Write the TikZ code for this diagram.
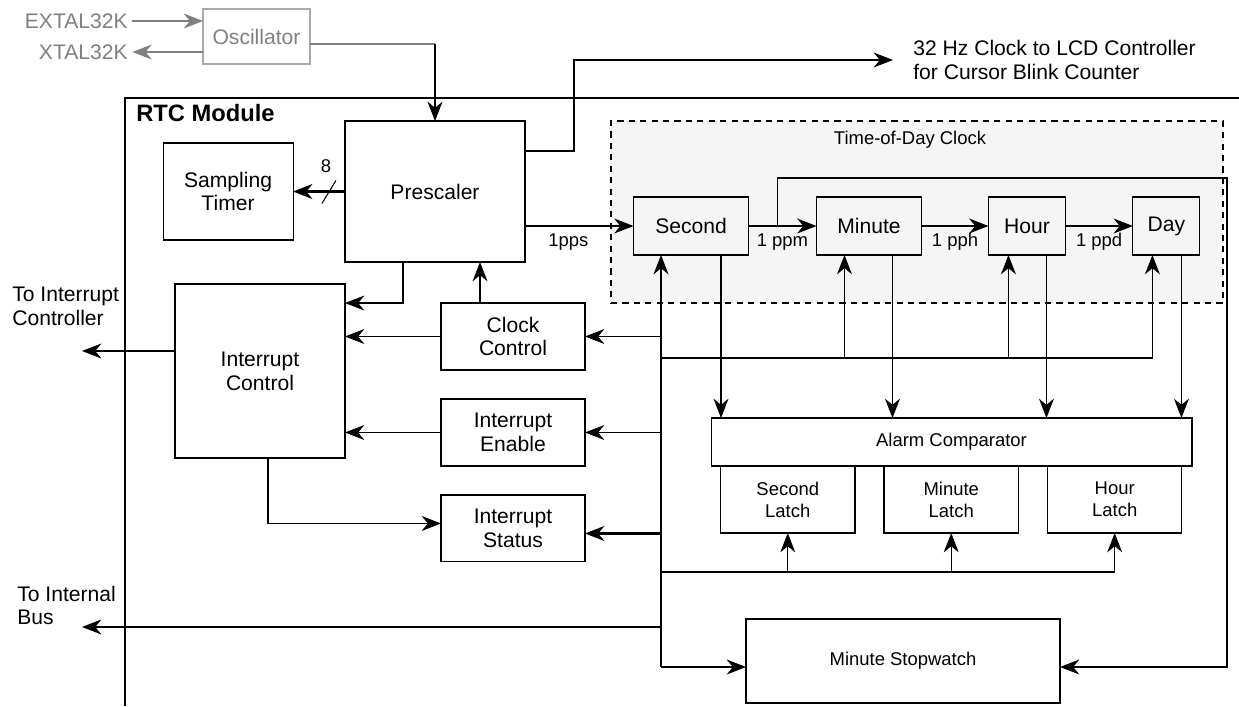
\documentclass[tikz,border=0pt]{standalone}
\usepackage{fontspec}
\setmainfont{Liberation Sans}
\usepackage{xcolor}
\usepackage{tikz}
\usetikzlibrary{arrows.meta, positioning, calc}
\definecolor{oscgray}{RGB}{128,128,128}
\definecolor{oscedge}{RGB}{170,170,170}
\definecolor{todfill}{RGB}{245,245,245}
\tikzset{
  block/.style={rectangle, draw=black, line width=0.6pt, inner sep=0pt, outer sep=0pt, align=center, font=\fontsize{12}{13.5}\selectfont},
  smallblock/.style={block, font=\fontsize{10.5}{12.6}\selectfont},
  oscblock/.style={block, draw=oscedge, text=oscgray},
  todbox/.style={rectangle, draw=black, line width=1.4pt, dash pattern=on 3.5pt off 3pt, fill=todfill, inner sep=0pt, outer sep=0pt},
  bigtext/.style={inner sep=0pt, align=left, font=\fontsize{12}{13.5}\selectfont},
  osctext/.style={bigtext, text=oscgray},
  smalltext/.style={inner sep=0pt, font=\fontsize{10.5}{12.6}\selectfont},
  tag/.style={smalltext, below=4pt},
  arrow/.style={line width=0.6pt, -{Stealth[length=11pt, width=8.5pt, inset=3.5pt]}},
  oscline/.style={line width=0.6pt, draw=oscgray},
  oscarrow/.style={arrow, draw=oscgray},
  busline/.style={line width=1.2pt},
  busarrow/.style={busline, -{Stealth[length=11pt, width=8.5pt, inset=3.5pt]}},
  frame/.style={line width=1.2pt}
}

\begin{document}
\begin{tikzpicture}[x=0.02cm, y=-0.02cm]
\useasboundingbox (0,0) rectangle (1239,706);

% oscillator outside the module
\node[oscblock, minimum width=2.14cm, minimum height=1.1cm] (osc) at (256.5,36.5) {Oscillator};
\node[osctext, anchor=east] (extal) at (128,21) {EXTAL32K};
\node[osctext, anchor=east] (xtal) at (128,52) {XTAL32K};

% module frame
\draw[frame] (125,706) |- (1239,98);
\node[anchor=west, inner sep=0pt, font=\bfseries\fontsize{13.5}{15}\selectfont] (rtc) at (136,113) {RTC Module};

% blocks
\node[todbox, minimum width=12.24cm, minimum height=3.64cm] (tod) at (917,212) {};
\node[smalltext] (todlbl) at (910,140) {Time-of-Day Clock};

\node[block, minimum width=3.6cm, minimum height=2.82cm] (presc) at (435,191.5) {Prescaler};
\node[block, minimum width=2.6cm, minimum height=1.94cm, left=1.04cm of presc] (samp) {Sampling\\Timer};

\node[block, minimum width=2.3cm, minimum height=1.16cm] (second) at (691,226) {Second};
\node[block, minimum width=2.1cm, minimum height=1.16cm, right=1.36cm of second] (minute) {Minute};
\node[block, minimum width=1.54cm, minimum height=1.16cm, right=1.34cm of minute] (hour) {Hour};
\node[block, minimum width=1.34cm, minimum height=1.16cm, right=1.35cm of hour] (day) {Day};

\node[block, minimum width=3.4cm, minimum height=3.48cm] (ictl) at (260,371) {Interrupt\\Control};
\node[block, minimum width=2.88cm, minimum height=1.34cm] (clkctl) at (513,336.5) {Clock\\Control};
\node[block, minimum width=2.88cm, minimum height=1.34cm, below=0.58cm of clkctl] (inten) {Interrupt\\Enable};
\node[block, minimum width=2.88cm, minimum height=1.34cm, below=0.58cm of inten] (intstat) {Interrupt\\Status};

\node[smallblock, minimum width=9.62cm, minimum height=0.96cm] (alarm) at (951.5,442) {Alarm Comparator};
\node[smallblock, minimum width=2.69cm, minimum height=1.34cm] (slatch) at (787.75,499.5) {Second\\Latch};
\node[smallblock, minimum width=2.69cm, minimum height=1.34cm, right=0.58cm of slatch] (mlatch) {Minute\\Latch};
\node[smallblock, minimum width=2.69cm, minimum height=1.34cm, right=0.58cm of mlatch] (hlatch) {Hour\\Latch};

\node[smallblock, line width=1.2pt, minimum width=6.28cm, minimum height=1.68cm] (stopw) at (903,661) {Minute Stopwatch};

% outside labels
\node[bigtext, anchor=west] (lcdtxt) at (913,60) {32 Hz Clock to LCD Controller\\for Cursor Blink Counter};
\node[bigtext, anchor=west] (toint) at (12,306.5) {To Interrupt\\Controller};
\node[bigtext, anchor=west] (tobus) at (17,605.5) {To Internal\\Bus};

\coordinate (lcdbend) at (574,60);
\coordinate (lcdend) at (893,60);
\coordinate (intout) at (82,351);
\coordinate (busout) at (82,627);
\coordinate (busbot) at (661,667);
\coordinate (feed) at (661,358);
\coordinate (lbus) at (661,572);
\coordinate (fbtop) at (1227,178);

% oscillator connections
\draw[oscarrow, shorten <=2pt] (extal.east) -- (extal.east -| osc.west);
\draw[oscarrow, shorten >=2.5pt] (xtal.east -| osc.west) -- (xtal.east);
\coordinate (oscout) at ($(osc.east)+(0,7.5)$);
\draw[oscline] (oscout) -- (oscout -| presc.north);
\draw[arrow] (oscout -| presc.north) -- (presc.north);

% prescaler outputs
\draw[busarrow] (presc.west) -- (samp.east);
\coordinate (slash) at ($(samp.east)!0.69!(presc.west)$);
\draw[line width=0.6pt] ($(slash)+(-7,12)$) -- ($(slash)+(7,-11)$);
\node[smalltext] (width8) at ($(slash)+(-3,-25)$) {8};
\draw[arrow] ($(presc.north east)+(0,30)$) -| (lcdbend) -- (lcdend);
\draw[arrow] (presc.east |- second.west) -- (second.west) node[tag, pos=0.4] {1pps};

% counter chain
\draw[arrow] (second) -- (minute) node[tag, midway] {1 ppm};
\draw[arrow] (minute) -- (hour) node[tag, midway] {1 pph};
\draw[arrow] (hour) -- (day) node[tag, midway] {1 ppd};
\draw[arrow] ($(second.east)!0.43!(minute.west)$) |- (fbtop) |- ($(stopw.east)+(0,6)$);

% counters to comparator
\foreach \n/\dx in {second/30, minute/23.5, hour/19.5, day/15} {
  \coordinate (tap) at ($(\n.south)+(\dx,0)$);
  \draw[arrow] (tap) -- (tap |- alarm.north);
}

% internal bus
\draw[busarrow] (busbot) -- (busbot |- second.south);
\draw[busarrow] (busbot) -- (busbot -| stopw.west);
\draw[busarrow] (busbot |- busout) -- (busout);
\draw[busline] (lbus) -- (lbus -| hlatch.south);
\foreach \n in {slatch, mlatch, hlatch}
  \draw[arrow] (lbus -| \n.south) -- (\n.south);
\coordinate (mup) at ($(minute.south)+(-24.5,0)$);
\coordinate (hup) at ($(hour.south)+(-18.5,0)$);
\coordinate (dup) at ($(day.south)+(-14,0)$);
\draw[arrow] (feed) -| (dup);
\draw[arrow] (feed -| mup) -- (mup);
\draw[arrow] (feed -| hup) -- (hup);
\draw[arrow] (busbot |- clkctl.east) -- (clkctl.east);
\draw[arrow] (busbot |- inten.east) -- (inten.east);
\draw[busarrow] ($(busbot |- intstat.east)+(0,5)$) -- ($(intstat.east)+(0,5)$);

% interrupt logic
\draw[arrow] ($(presc.south)+(-32,0)$) |- ($(ictl.north east)+(0,19)$);
\coordinate (ccup) at ($(clkctl.north)+(-33,0)$);
\draw[arrow] (ccup) -- (ccup |- presc.south);
\draw[arrow] (clkctl.west) -- (clkctl.west -| ictl.east);
\draw[arrow] (inten.west) -- (inten.west -| ictl.east);
\draw[arrow] ($(ictl.south)+(8,0)$) |- ($(intstat.west)+(0,-5)$);
\draw[arrow] (ictl.west |- intout) -- (intout);
\end{tikzpicture}
\end{document}
